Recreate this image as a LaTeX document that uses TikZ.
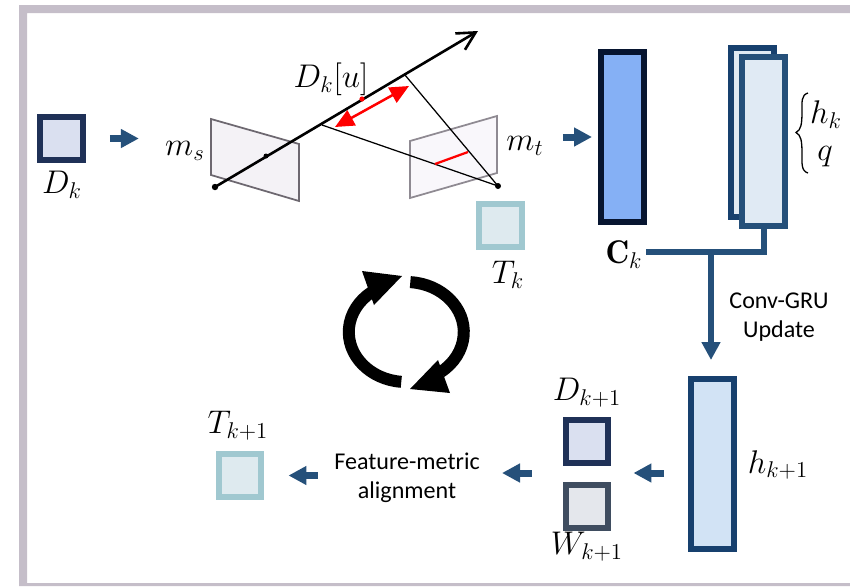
\documentclass[tikz,border=0pt]{standalone}
\usepackage{fontspec}
\setsansfont{Carlito}
\usetikzlibrary{arrows.meta}
\definecolor{framecol}{HTML}{C5BEC9}
\definecolor{flowcol}{HTML}{25507A}
\definecolor{depthline}{HTML}{1F3157}
\definecolor{depthfill}{HTML}{DAE0F0}
\definecolor{poseline}{HTML}{A0C8D0}
\definecolor{posefill}{HTML}{DEEAEF}
\definecolor{weightline}{HTML}{3F4D60}
\definecolor{weightfill}{HTML}{E4E7EC}
\definecolor{costline}{HTML}{071530}
\definecolor{costfill}{HTML}{85B0F5}
\definecolor{hiddenline}{HTML}{17406E}
\definecolor{hiddenfill}{HTML}{D2E3F5}
\definecolor{stackfill}{HTML}{E0EAF4}
\definecolor{srcline}{HTML}{6D6870}
\definecolor{srcfill}{HTML}{F4F2F6}
\definecolor{tgtline}{HTML}{8F8A92}
\definecolor{tgtfill}{HTML}{F9F7FB}
\begin{document}
\begin{tikzpicture}[x=0.02cm,y=-0.02cm,
  every node/.style={inner sep=0pt},
  mathlab/.style={font=\LARGE,scale=1.08},
  txtlab/.style={font=\sffamily\fontsize{13.7}{16.4}\selectfont,align=center},
  sqbox/.style={draw,line width=.12cm,minimum width=.86cm,minimum height=.86cm},
  barbox/.style={draw,line width=.12cm,minimum width=.86cm,minimum height=3.40cm},
  flow/.style={flowcol,line width=.14cm,-{Triangle[length=.36cm,width=.36cm]}},
  plane/.style={line width=.035cm,line join=miter},
  thinray/.style={black,line width=.025cm},
  loopline/.style={black,line width=.24cm},
  dot/.style={fill=black}]
\useasboundingbox (0,0) rectangle (850,586);
% frame
\fill[framecol] (19,5) -- (850,5) -- (850,13) -- (27,13) -- (27,583) -- (850,583) -- (850,586) -- (19,586) -- cycle;
% epipolar sketch
\coordinate (cs) at (215,187);
\coordinate (ct) at (498,186);
\coordinate (rayend) at (478,31);
\coordinate (near) at (322,125);
\coordinate (far) at (405,75);
\filldraw[plane,draw=srcline,fill=srcfill] (211,119) -- (299,144) -- (299,201) -- (211,175) -- cycle;
\filldraw[plane,draw=tgtline,fill=tgtfill] (410,141) -- (497,116) -- (497,173) -- (410,198) -- cycle;
\draw[thinray] (near) -- (ct) -- (far);
\draw[red,line width=.045cm] (435,164) -- (468,152);
\draw[black,line width=.052cm,-{Straight Barb[length=.36cm,width=.38cm]}] (cs) -- (rayend);
\draw[red,line width=.05cm,{Triangle[length=.38cm,width=.34cm]}-{Triangle[length=.38cm,width=.34cm]}] (335,127) -- (409,86);
\fill[dot] (cs) circle (3.2);
\fill[dot] (ct) circle (3);
\fill[dot] (266,156) circle (2.5);
\fill[red] (362,99) circle (2.6);
% inputs
\node[sqbox,draw=depthline,fill=depthfill] (Dk) at (61.5,138.5) {};
\node[mathlab] (DkLab) at (62,185) {$D_k$};
\node[mathlab] (ms) at (185,151) {$m_s$};
\node[mathlab] (mt) at (525,146) {$m_t$};
\node[mathlab] (Duv) at (331,79) {$D_k[u]$};
\node[sqbox,draw=poseline,fill=posefill] (Tk) at (500.5,225.5) {};
\node[mathlab] (TkLab) at (508,275) {$T_k$};
% cost and hidden state
\node[barbox,draw=costline,fill=costfill] (Ck) at (622.5,137) {};
\node[mathlab] (CkLab) at (624,255) {$\mathbf{C}_k$};
\node[barbox,draw=hiddenline,fill=stackfill] (hback) at (752.5,132.5) {};
\node[barbox,draw=flowcol,fill=stackfill] (hfront) at (763.5,141.5) {};
\draw[black,line width=.026cm] (808,93) .. controls (801,95) and (802,102) .. (802,112) .. controls (802,124) and (801,130) .. (796,132.5) .. controls (801,135) and (802,141) .. (802,153) .. controls (802,163) and (801,171) .. (808,173);
\node[mathlab] (hk) at (826,115) {$h_k$};
\node[mathlab] (hq) at (825,157) {$q$};
% update
\node[barbox,draw=hiddenline,fill=hiddenfill] (hnext) at (712.5,464) {};
\node[mathlab] (hnextLab) at (778,465) {$h_{k+1}$};
\node[txtlab] (gru) at (779,317) {Conv-GRU\\Update};
\node[sqbox,draw=depthline,fill=depthfill] (Dnext) at (587,441.5) {};
\node[mathlab] (DnextLab) at (587,393) {$D_{k+1}$};
\node[sqbox,draw=weightline,fill=weightfill] (Wnext) at (587,506) {};
\node[mathlab] (WnextLab) at (587,547) {$W_{k+1}$};
\node[txtlab] (fm) at (407,477.5) {Feature-metric\\alignment};
\node[sqbox,draw=poseline,fill=posefill] (Tnext) at (240,475.5) {};
\node[mathlab] (TnextLab) at (238,426) {$T_{k+1}$};
% connectors
\coordinate (tee) at (646,252);
\draw[flow,shorten <=.48cm,shorten >=.52cm] (Dk.east) -- (ms.west |- Dk.east);
\draw[flow,shorten <=.38cm,shorten >=.12cm] (mt.east |- Ck.west) -- (Ck.west);
\draw[flowcol,line width=.12cm,line join=miter] (hfront.south) |- (tee);
\draw[flowcol,line width=.12cm,-{Triangle[length=.36cm,width=.36cm]},shorten >=.32cm] ([xshift=-.03cm]hnext.north |- tee) -- ([xshift=-.03cm]hnext.north);
\draw[flow,shorten <=.48cm,shorten >=.44cm] (hnext.west |- 0,473) -- (Dnext.east |- 0,473);
\draw[flow,shorten <=.62cm,shorten >=.44cm] (Dnext.west |- 0,473) -- (fm.east |- 0,473);
\draw[flow,shorten <=.32cm,shorten >=.48cm] (fm.west |- Tnext.east) -- (Tnext.east);
% loop
\draw[loopline] (406.3,332) ++(-86:57.5 and 50) arc[start angle=-86,end angle=53,x radius=57.5,y radius=50];
\draw[loopline] (406.3,332) ++(95:57.5 and 50) arc[start angle=95,end angle=233,x radius=57.5,y radius=50];
\fill[black] (410,389) -- (438,360) -- (450,393) -- cycle;
\fill[black] (402,276) -- (362,271) -- (374,305) -- cycle;
\end{tikzpicture}
\end{document}
